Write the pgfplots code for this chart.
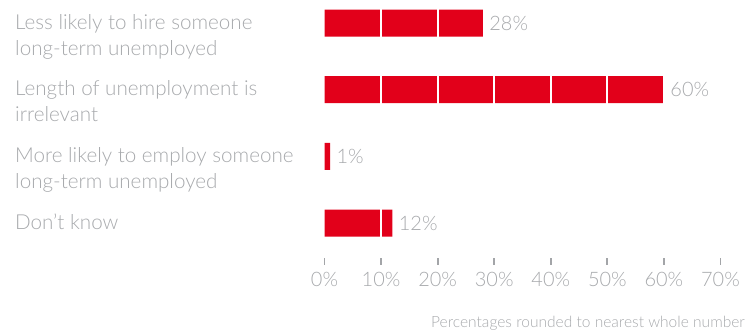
\documentclass[border=0pt]{standalone}
\usepackage{pgfplots}
\pgfplotsset{compat=1.18}
\usepackage{pgfplotstable}
\usepackage{fontspec}
\setmainfont{Lato}[UprightFont={* Light}]
\definecolor{barred}{HTML}{E2001A}
\definecolor{txtgray}{HTML}{A7A9AC}
\definecolor{tickgray}{HTML}{A3A5A8}
% y: 3 = top row
\pgfplotstableread{
y total
3 28
2 60
1 1
0 12
}\datatable
\begin{document}
\begin{tikzpicture}
\path[use as bounding box] (0,0) rectangle (748bp,331bp);
\begin{axis}[
  at={(324.5bp,328bp)}, anchor=north west,
  scale only axis, width=396bp, height=253.4bp,
  xmin=0, xmax=70, ymin=-0.5, ymax=3.3,
  clip=false,
  axis x line*=bottom,
  axis y line=none,
  x axis line style={draw=none, -},
  axis on top,
  xtick={0,10,...,70},
  xticklabel={\pgfmathprintnumber{\tick}\%},
  minor xtick={10,20,...,60},
  xminorgrids,
  minor grid style={draw=white, line width=2bp},
  minor tick length=0pt,
  major tick length=6bp,
  tick align=outside,
  ytick=\empty,
  major tick style={draw=none},
  xticklabel style={font=\fontsize{20}{22}\selectfont, text=txtgray, yshift=-6bp},
  /pgf/number format/assume math mode=true,
]
\addplot[xbar, fill=barred, draw=none, bar width=27bp,
  point meta=x,
  nodes near coords={\pgfmathprintnumber{\pgfplotspointmeta}\%},
  nodes near coords style={text=txtgray, font=\fontsize{20}{22}\selectfont, anchor=west, xshift=3bp, /pgf/number format/assume math mode=true}
] table[x=total,y=y]{\datatable};
\pgfplotsinvokeforeach{0,10,20,30,40,50,60,70}{
  \draw[tickgray, line width=1.8bp] ([yshift=-1.8bp]axis cs:#1,-0.5) -- ([yshift=-8.6bp]axis cs:#1,-0.5);
}
\begin{scope}[every node/.style={anchor=base west, text=txtgray, font=\fontsize{20.7}{22}\selectfont, inner sep=0pt}]
\node at ([xshift=-309.5bp,yshift=-6bp]axis cs:0,3) {Less likely to hire someone};
\node at ([xshift=-309.5bp,yshift=-32bp]axis cs:0,3) {long-term unemployed};
\node at ([xshift=-309.5bp,yshift=-6bp]axis cs:0,2) {Length of unemployment is};
\node at ([xshift=-309.5bp,yshift=-32bp]axis cs:0,2) {irrelevant};
\node at ([xshift=-309.5bp,yshift=-6bp]axis cs:0,1) {More likely to employ someone};
\node at ([xshift=-309.5bp,yshift=-32bp]axis cs:0,1) {long-term unemployed};
\node at ([xshift=-309.5bp,yshift=-6bp]axis cs:0,0) {Don’t know};
\end{scope}
\end{axis}
\node[anchor=base east, inner sep=0pt, text=txtgray, font=\fontsize{15.6}{17}\selectfont] at (745bp,4bp) {Percentages rounded to nearest whole number};
\end{tikzpicture}
\end{document}
